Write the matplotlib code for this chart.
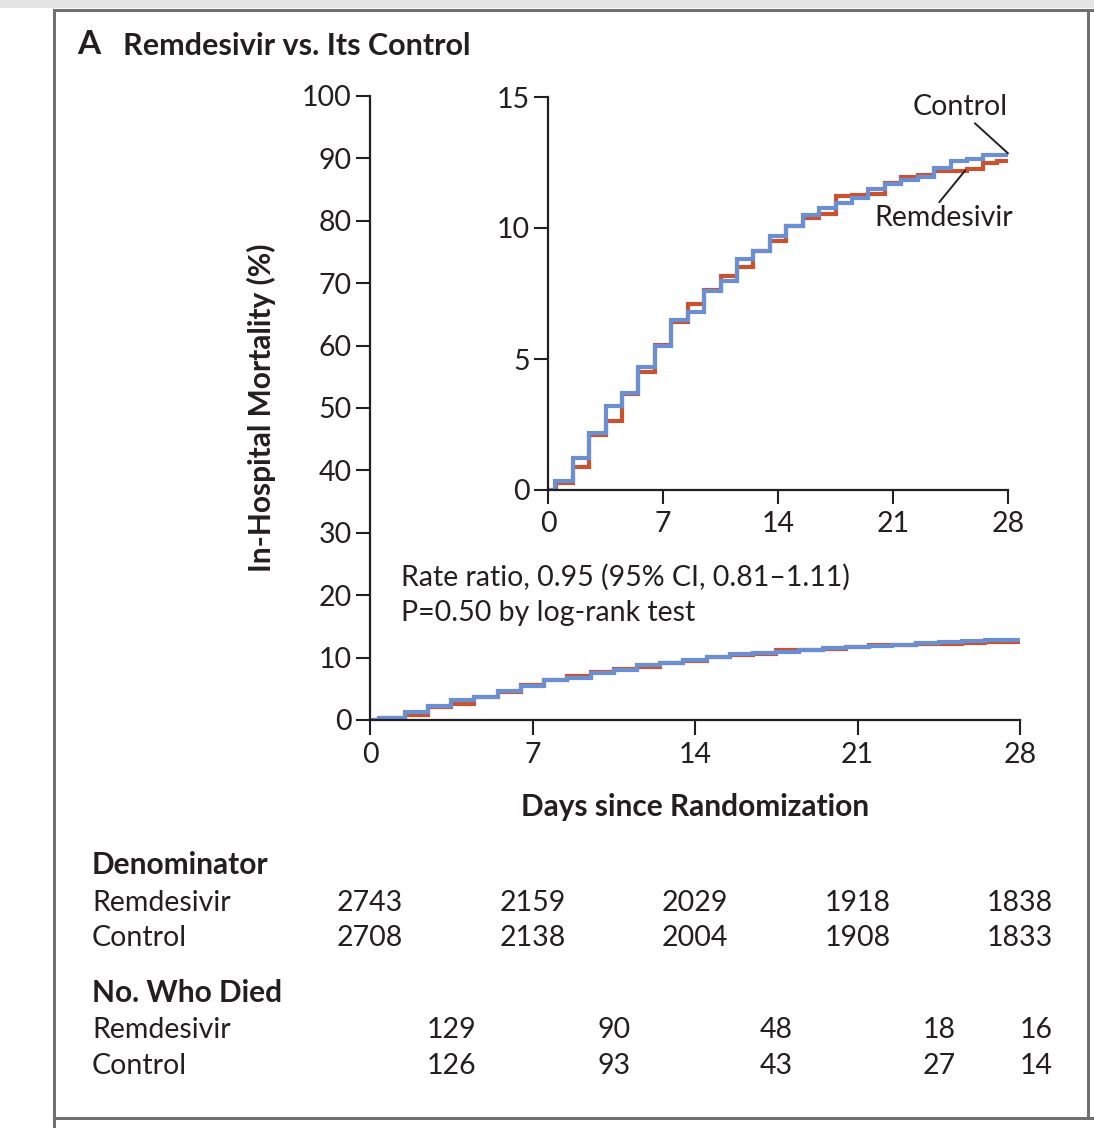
import matplotlib
matplotlib.use("Agg")
import matplotlib.pyplot as plt
from matplotlib.lines import Line2D
from matplotlib.patches import Rectangle
import matplotlib.transforms as mtransforms

plt.rcParams['font.family'] = ['Lato', 'DejaVu Sans']

# ---------------- data ----------------
ctrl_days = [0, 0.4, 1.5, 2.5, 3.5, 4.5, 5.5, 6.5, 7.5, 8.5, 9.5, 10.5, 11.5, 12.5,
             13.5, 14.5, 15.5, 16.5, 17.5, 18.5, 19.5, 20.5, 21.5, 22.5, 23.5, 24.5,
             25.5, 26.5, 28]
ctrl_mort = [0, 0.36, 1.21, 2.17, 3.19, 3.69, 4.69, 5.50, 6.47, 6.78, 7.58, 7.96, 8.82,
             9.11, 9.68, 10.06, 10.51, 10.77, 10.96, 11.15, 11.47, 11.68, 11.82, 11.95,
             12.29, 12.55, 12.64, 12.79, 12.79]
rem_days = [0, 0.5, 1.5, 2.5, 3.5, 4.5, 5.5, 6.5, 7.5, 8.5, 9.5, 10.5, 11.5, 12.5,
            13.5, 14.5, 15.5, 16.5, 17.5, 18.5, 19.5, 20.5, 21.5, 22.5, 23.5, 25.5,
            26.5, 27.3, 28]
rem_mort = [0, 0.28, 0.87, 2.09, 2.64, 3.67, 4.52, 5.54, 6.41, 7.10, 7.64, 8.18, 8.51,
            9.11, 9.52, 10.06, 10.38, 10.55, 11.21, 11.26, 11.31, 11.72, 11.95, 12.04,
            12.19, 12.27, 12.48, 12.56, 12.56]

main_xticks = [0, 7, 14, 21, 28]
main_yticks = [0, 10, 20, 30, 40, 50, 60, 70, 80, 90, 100]
inset_yticks = [0, 5, 10, 15]

denom_days = [0, 7, 14, 21, 28]
denom_rem = ["2743", "2159", "2029", "1918", "1838"]
denom_ctrl = ["2708", "2138", "2004", "1908", "1833"]
died_days = [3.5, 10.5, 17.5, 24.5, 28]
died_rem = ["129", "90", "48", "18", "16"]
died_ctrl = ["126", "93", "43", "27", "14"]

RED = "#c9532f"
BLUE = "#6b8fd3"
TXT = "#231f20"
FRAME = "#707070"

FS = 20.5      # regular text
FSB = 21.5     # bold labels

W, H = 1094, 1128
fig = plt.figure(figsize=(W / 100, H / 100), dpi=100)
fig.patch.set_facecolor("white")


def fx(x):
    return x / W


def fy(y):
    return 1 - y / H


# ---------------- frame ----------------
fig.add_artist(Rectangle((0, fy(8)), 1, 8 / H, transform=fig.transFigure,
                         facecolor="#e4e4e4", edgecolor="none"))
for (x0, y0, x1, y1) in [(54, 9.5, W, 9.5), (54, 9.5, 54, H), (1087.5, 9.5, 1087.5, 1118),
                         (54, 1118, W, 1118)]:
    fig.add_artist(Line2D([fx(x0), fx(x1)], [fy(y0), fy(y1)], transform=fig.transFigure,
                          color=FRAME, lw=2.2))

# ---------------- main axes ----------------
ax = fig.add_axes([fx(370), fy(720), fx(1020) - fx(370), fy(96) - fy(720)])
ax.set_xlim(0, 28)
ax.set_ylim(0, 100)
ax.step(rem_days, rem_mort, where="post", color=RED, lw=3.0, solid_joinstyle="miter")
ax.step(ctrl_days, ctrl_mort, where="post", color=BLUE, lw=3.0, solid_joinstyle="miter")
for s in ["top", "right"]:
    ax.spines[s].set_visible(False)
for s in ["left", "bottom"]:
    ax.spines[s].set_linewidth(1.6)
    ax.spines[s].set_color(TXT)
ax.set_xticks(main_xticks)
ax.set_yticks(main_yticks)
ax.tick_params(axis="y", direction="out", length=10, width=1.5, pad=3, labelsize=FS,
               colors=TXT)
ax.tick_params(axis="x", direction="out", length=11, width=1.5, pad=5, labelsize=FS,
               colors=TXT)
ax.patch.set_alpha(0)

fig.text(fx(401), fy(577), "Rate ratio, 0.95 (95% CI, 0.81\u20131.11)", fontsize=FS,
         color=TXT, ha="left", va="center")
fig.text(fx(401), fy(613), "P=0.50 by log-rank test", fontsize=FS, color=TXT,
         ha="left", va="center")

fig.text(fx(261), fy(408), "In-Hospital Mortality (%)", rotation=90, fontsize=FSB,
         fontweight="bold", color=TXT, ha="center", va="center")
fig.text(fx(695), fy(807), "Days since Randomization", fontsize=FSB, fontweight="bold",
         color=TXT, ha="center", va="center")

fig.text(fx(77), fy(45), "A", fontsize=24, fontweight="bold", color=TXT, ha="left",
         va="center")
fig.text(fx(123), fy(46), "Remdesivir vs. Its Control", fontsize=22, fontweight="bold",
         color=TXT, ha="left", va="center")

# ---------------- inset ----------------
axi = fig.add_axes([fx(548), fy(490), fx(1008) - fx(548), fy(97) - fy(490)])
axi.set_xlim(0, 28)
axi.set_ylim(0, 15)
axi.step(rem_days, rem_mort, where="post", color=RED, lw=3.0, solid_joinstyle="miter")
axi.step(ctrl_days, ctrl_mort, where="post", color=BLUE, lw=3.0, solid_joinstyle="miter")
for s in ["top", "right"]:
    axi.spines[s].set_visible(False)
for s in ["left", "bottom"]:
    axi.spines[s].set_linewidth(1.6)
    axi.spines[s].set_color(TXT)
axi.set_xticks(main_xticks)
axi.set_yticks(inset_yticks)
axi.tick_params(axis="y", direction="out", length=10, width=1.5, pad=3, labelsize=FS,
                colors=TXT)
axi.tick_params(axis="x", direction="out", length=10, width=1.5, pad=5, labelsize=FS,
                colors=TXT)
axi.patch.set_alpha(0)

axi.annotate("Control", xy=(28, 12.85), xytext=(28, 14.6), fontsize=FS, color=TXT,
             ha="right", va="center",
             arrowprops=dict(arrowstyle="-", color=TXT, lw=1.4,
                             shrinkA=0, shrinkB=0, relpos=(0.62, 0.0)))
axi.annotate("Remdesivir", xy=(25.4, 12.2), xytext=(24.1, 10.38), fontsize=FS,
             color=TXT, ha="center", va="center",
             arrowprops=dict(arrowstyle="-", color=TXT, lw=1.4,
                             shrinkA=0, shrinkB=0, relpos=(0.45, 1.0)))

# ---------------- risk table ----------------
tr = mtransforms.blended_transform_factory(ax.transData, fig.transFigure)
fig.text(fx(92), fy(865), "Denominator", fontsize=FSB, fontweight="bold", color=TXT,
         ha="left", va="center")
fig.text(fx(92), fy(903), "Remdesivir", fontsize=FS, color=TXT, ha="left", va="center")
fig.text(fx(92), fy(938), "Control", fontsize=FS, color=TXT, ha="left", va="center")
for d, a, b in zip(denom_days, denom_rem, denom_ctrl):
    ax.text(d, fy(903), a, transform=tr, fontsize=FS, color=TXT, ha="center",
            va="center", clip_on=False)
    ax.text(d, fy(938), b, transform=tr, fontsize=FS, color=TXT, ha="center",
            va="center", clip_on=False)

fig.text(fx(92), fy(993), "No. Who Died", fontsize=FSB, fontweight="bold", color=TXT,
         ha="left", va="center")
fig.text(fx(92), fy(1030), "Remdesivir", fontsize=FS, color=TXT, ha="left", va="center")
fig.text(fx(92), fy(1066), "Control", fontsize=FS, color=TXT, ha="left", va="center")
for i, (d, a, b) in enumerate(zip(died_days, died_rem, died_ctrl)):
    off = mtransforms.offset_copy(tr, fig=fig, x=(16 if i == len(died_days) - 1 else 0),
                                  y=0, units="dots")
    ax.text(d, fy(1030), a, transform=off, fontsize=FS, color=TXT, ha="center",
            va="center", clip_on=False)
    ax.text(d, fy(1066), b, transform=off, fontsize=FS, color=TXT, ha="center",
            va="center", clip_on=False)

fig.savefig("out.png", dpi=100)
